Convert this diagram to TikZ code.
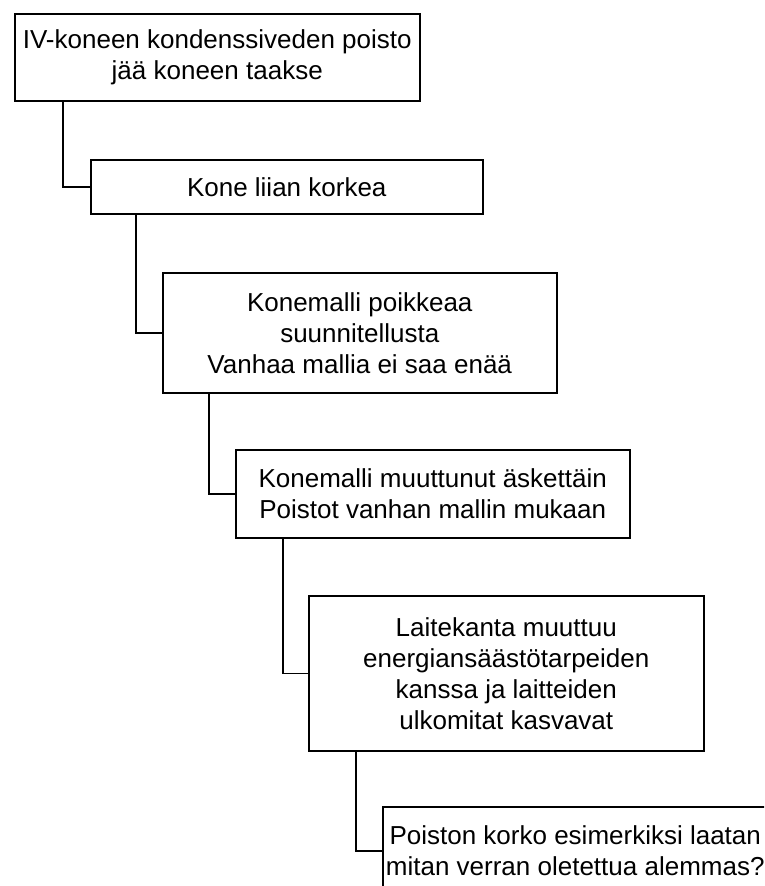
\documentclass[tikz,border=0pt]{standalone}
\usepackage{fontspec}
\setmainfont{Liberation Sans}
\begin{document}
\begin{tikzpicture}[
  x=1pt, y=-1pt,
  cause/.style={draw, line width=1.5pt, inner sep=0pt, anchor=north west,
    align=center, font=\fontsize{26}{31}\selectfont},
  link/.style={line width=1.5pt}
]
\useasboundingbox (0,0) rectangle (764,886);
\clip (0,0) rectangle (764,886);
% cause chain, top to bottom:
\node[cause, minimum width=405pt, minimum height=87pt] (b1) at (14,13)
  {IV-koneen kondenssiveden poisto\\jää koneen taakse};
\node[cause, minimum width=392pt, minimum height=54pt] (b2) at (90,159)
  {Kone liian korkea};
\node[cause, minimum width=394pt, minimum height=120pt] (b3) at (162,272)
  {Konemalli poikkeaa\\suunnitellusta\\Vanhaa mallia ei saa enää};
\node[cause, minimum width=394pt, minimum height=88pt] (b4) at (235,449)
  {Konemalli muuttunut äskettäin\\Poistot vanhan mallin mukaan};
\node[cause, minimum width=395pt, minimum height=155pt] (b5) at (308,595)
  {Laitekanta muuttuu\\energiansäästötarpeiden\\kanssa ja laitteiden\\ulkomitat kasvavat};
\node[cause, minimum width=385pt, minimum height=88pt] (b6) at (382,806)
  {Poiston korko esimerkiksi laatan\\mitan verran oletettua alemmas?};
% elbow links:
\draw[link] ([xshift=49pt]b1.south west) |- (b2.west);
\draw[link] ([xshift=46pt]b2.south west) |- (b3.west);
\draw[link] ([xshift=47pt]b3.south west) |- (b4.west);
\draw[link] ([xshift=48pt]b4.south west) |- (b5.west);
\draw[link] ([xshift=48pt]b5.south west) |- (b6.west);
\end{tikzpicture}
\end{document}
